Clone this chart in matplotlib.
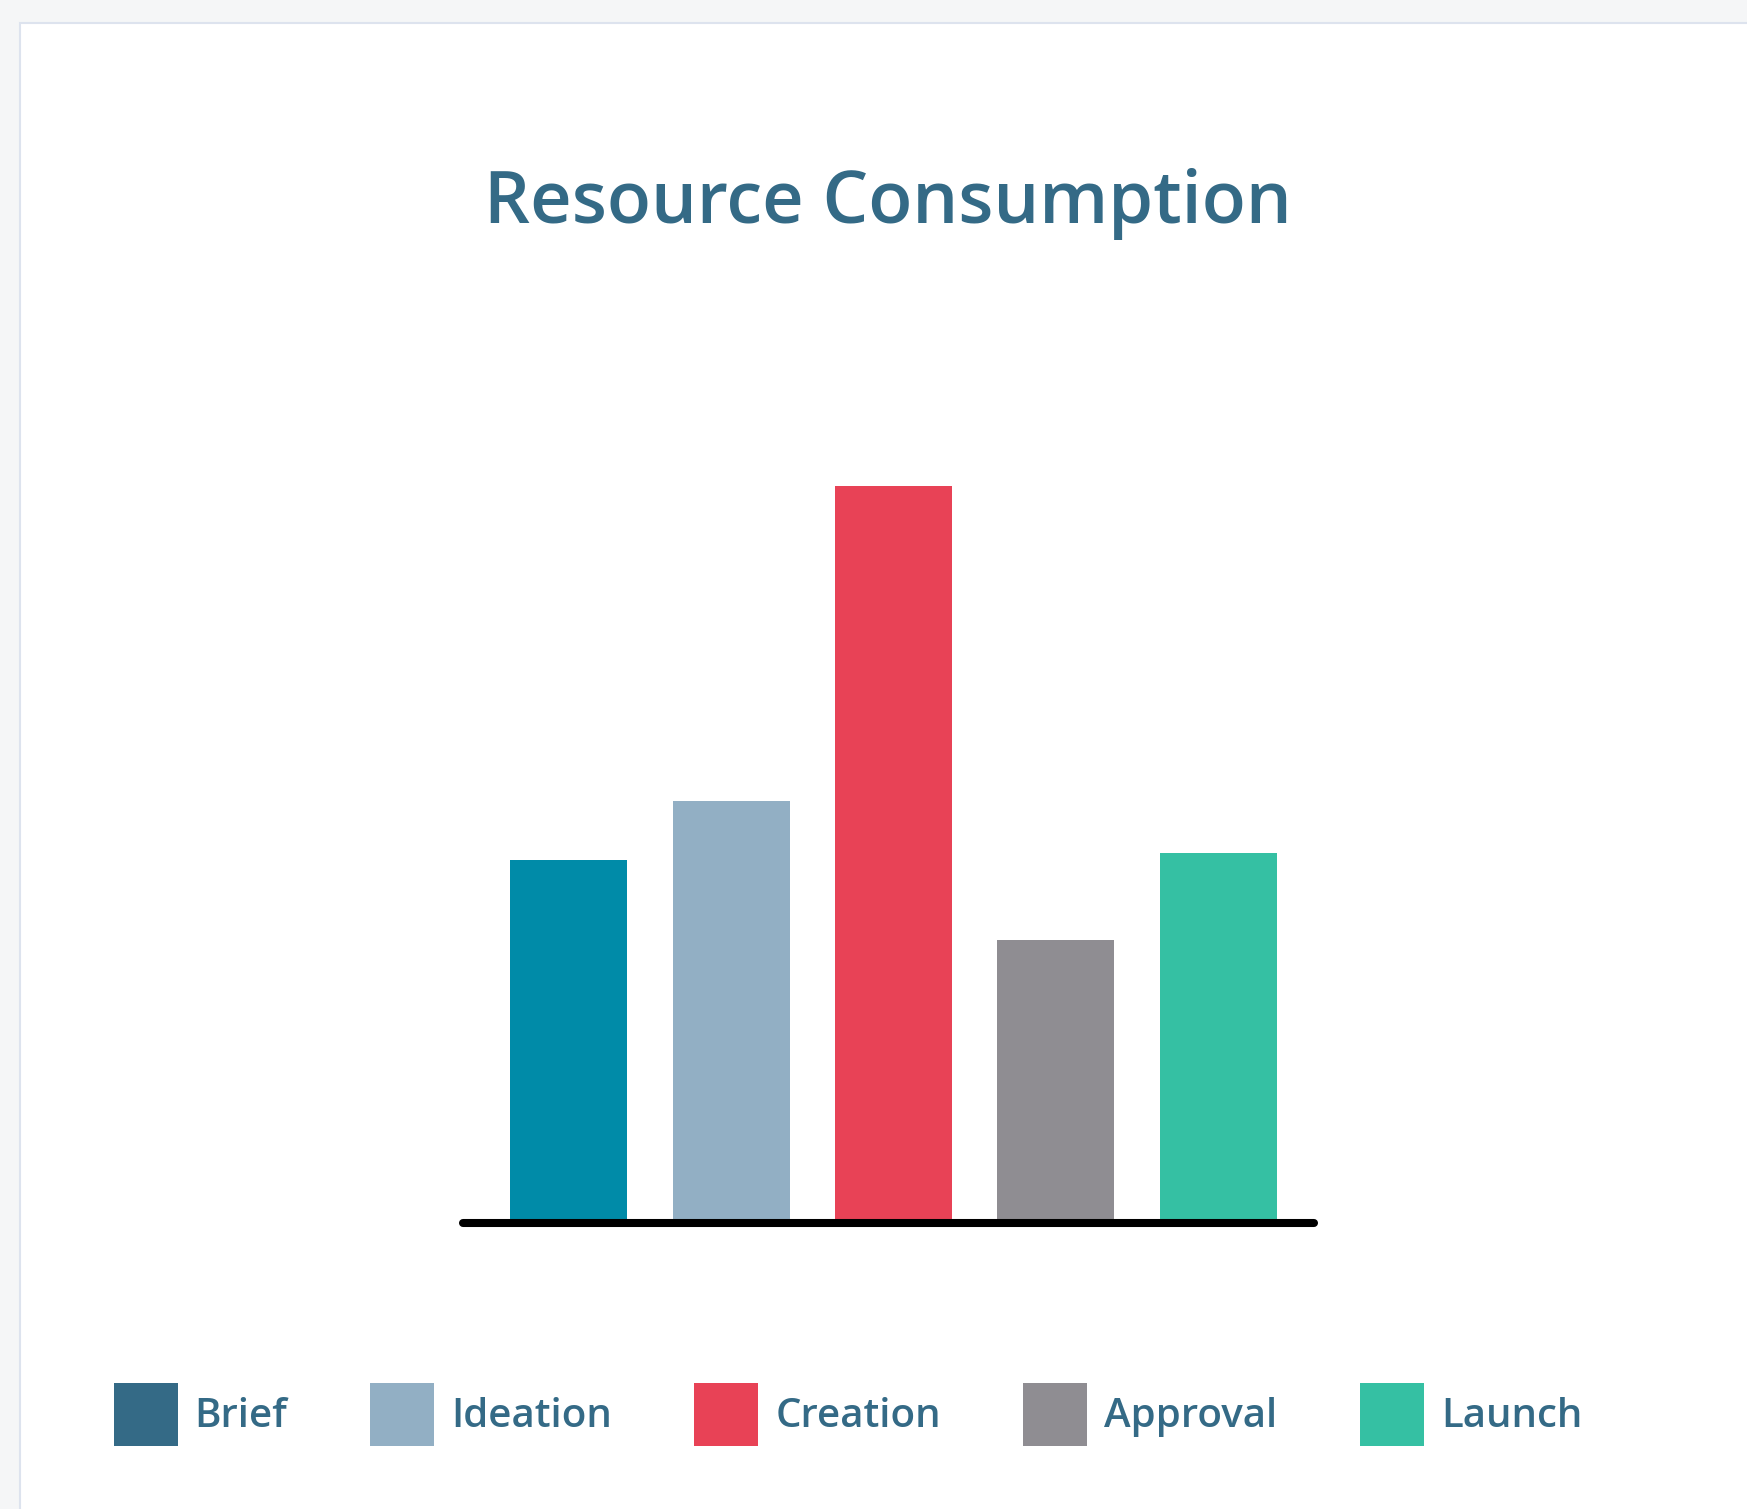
import matplotlib.pyplot as plt
from matplotlib.patches import Rectangle, Patch

stages = ['Brief', 'Ideation', 'Creation', 'Approval', 'Launch']
consumption = [49, 57, 100, 38, 50]
bar_colors = ['#008ba8', '#92afc4', '#e84256', '#8f8d92', '#35c0a3']
legend_colors = ['#346a86', '#92afc4', '#e84256', '#8f8d92', '#35c0a3']
text_color = '#346a86'

plt.rcParams['font.family'] = ['Open Sans', 'DejaVu Sans']

fig = plt.figure(figsize=(17.47, 15.09), dpi=100, facecolor='#f5f6f7')

# white card with a thin border
card = Rectangle((20 / 1747, -0.05), 1.1, 1 - 23 / 1509 + 0.05,
                 transform=fig.transFigure, facecolor='white',
                 edgecolor='#dde3ee', linewidth=1.5, zorder=-10)
fig.patches.append(card)

ax = fig.add_axes([0.2653, 0.1922, 0.4866, 0.4857])
ax.set_zorder(5)
ax.set_facecolor('none')
x = range(len(stages))
ax.bar(x, consumption, width=0.72, color=bar_colors)
ax.set_xlim(-0.648, 4.587)
ax.set_ylim(0, 100)

for side in ['top', 'right', 'left']:
    ax.spines[side].set_visible(False)
ax.spines['bottom'].set_linewidth(5.8)
ax.spines['bottom'].set_color('black')
ax.spines['bottom'].set_capstyle('round')
ax.spines['bottom'].set_position(('outward', 3))
ax.set_xticks([])
ax.set_yticks([])

fig.text(0.508, 0.8524, 'Resource Consumption', ha='center', va='baseline',
         fontsize=52, fontweight='semibold', color=text_color)

handles = [Patch(facecolor=c, edgecolor='none') for c in legend_colors]
leg = fig.legend(handles, stages, loc='center', bbox_to_anchor=(0.4854, 0.0626),
                 ncol=5, frameon=False, fontsize=29, handlelength=1.59,
                 handleheight=2.05, handletextpad=0.42, columnspacing=2.05)
for t in leg.get_texts():
    t.set_color(text_color)
    t.set_fontweight('semibold')

fig.savefig('out.png', dpi=100, facecolor=fig.get_facecolor())
